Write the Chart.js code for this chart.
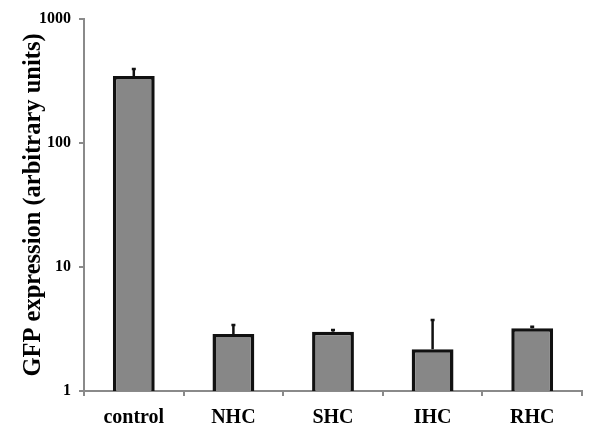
<!DOCTYPE html>
<html>
<head>
<meta charset="utf-8">
<script src="https://cdn.jsdelivr.net/npm/chart.js@4"></script>
<style>
  html, body { margin: 0; padding: 0; background: #fff; }
</style>
</head>
<body>
<canvas id="gfpChart" width="600" height="440"></canvas>
<script>
var categories = ['control', 'NHC', 'SHC', 'IHC', 'RHC'];
var gfpMeans = [347, 2.88, 3.0, 2.17, 3.2];
var gfpErrors = [48, 0.53, 0.1, 1.57, 0.1];
var yTickLabels = [1, 10, 100, 1000];

// upward-only error bars, drawn through the y scale
var errorBarPlugin = {
    id: 'errorBars',
    afterDatasetsDraw: function (chart) {
        var c = chart.ctx;
        var meta = chart.getDatasetMeta(0);
        var yScale = chart.scales.y;
        c.save();
        c.strokeStyle = '#111';
        c.lineWidth = 2.5;
        meta.data.forEach(function (bar, i) {
            var yTop = yScale.getPixelForValue(gfpMeans[i] + gfpErrors[i]);
            c.beginPath();
            c.moveTo(bar.x, bar.y);
            c.lineTo(bar.x, yTop);
            c.moveTo(bar.x - 2, yTop);
            c.lineTo(bar.x + 2, yTop);
            c.stroke();
        });
        c.restore();
    }
};

document.addEventListener('DOMContentLoaded', function () {
    var ctx = document.getElementById('gfpChart').getContext('2d');
    Chart.defaults.font.family = '"Liberation Serif", "Times New Roman", serif';
    Chart.defaults.font.weight = 'bold';
    Chart.defaults.color = '#000';

    new Chart(ctx, {
        type: 'bar',
        data: {
            labels: categories,
            datasets: [{
                label: 'GFP expression',
                data: gfpMeans,
                backgroundColor: '#878787',
                borderColor: '#111',
                borderWidth: 3.5,
                borderSkipped: 'bottom',
                barPercentage: 0.42,
                categoryPercentage: 1.0
            }]
        },
        options: {
            responsive: false,
            animation: false,
            layout: { padding: { top: 19, right: 18, left: 0, bottom: 0 } },
            plugins: {
                legend: { display: false },
                tooltip: { enabled: false }
            },
            scales: {
                y: {
                    type: 'logarithmic',
                    min: 1,
                    max: 1000,
                    afterFit: function (scale) { scale.width = 84; },
                    afterBuildTicks: function (scale) {
                        scale.ticks = yTickLabels.map(function (v) { return { value: v, major: true }; });
                    },
                    ticks: {
                        font: { size: 16, weight: 'bold' },
                        padding: 8,
                        callback: function (v) { return String(v); }
                    },
                    grid: { drawOnChartArea: false, tickLength: 5, color: '#8a8a8a', lineWidth: 2 },
                    border: { color: '#8a8a8a', width: 2 },
                    title: {
                        display: true,
                        text: 'GFP expression (arbitrary units)',
                        font: { size: 24.5, weight: 'bold' },
                        padding: { top: 19, bottom: 0 }
                    }
                },
                x: {
                    afterFit: function (scale) { scale.height = 49; },
                    ticks: { font: { size: 20, weight: 'bold' }, padding: 10, maxRotation: 0 },
                    grid: { drawOnChartArea: false, tickLength: 5, color: '#8a8a8a', lineWidth: 2, offset: true },
                    border: { color: '#8a8a8a', width: 2 }
                }
            }
        },
        plugins: [errorBarPlugin]
    });
});
</script>
</body>
</html>
